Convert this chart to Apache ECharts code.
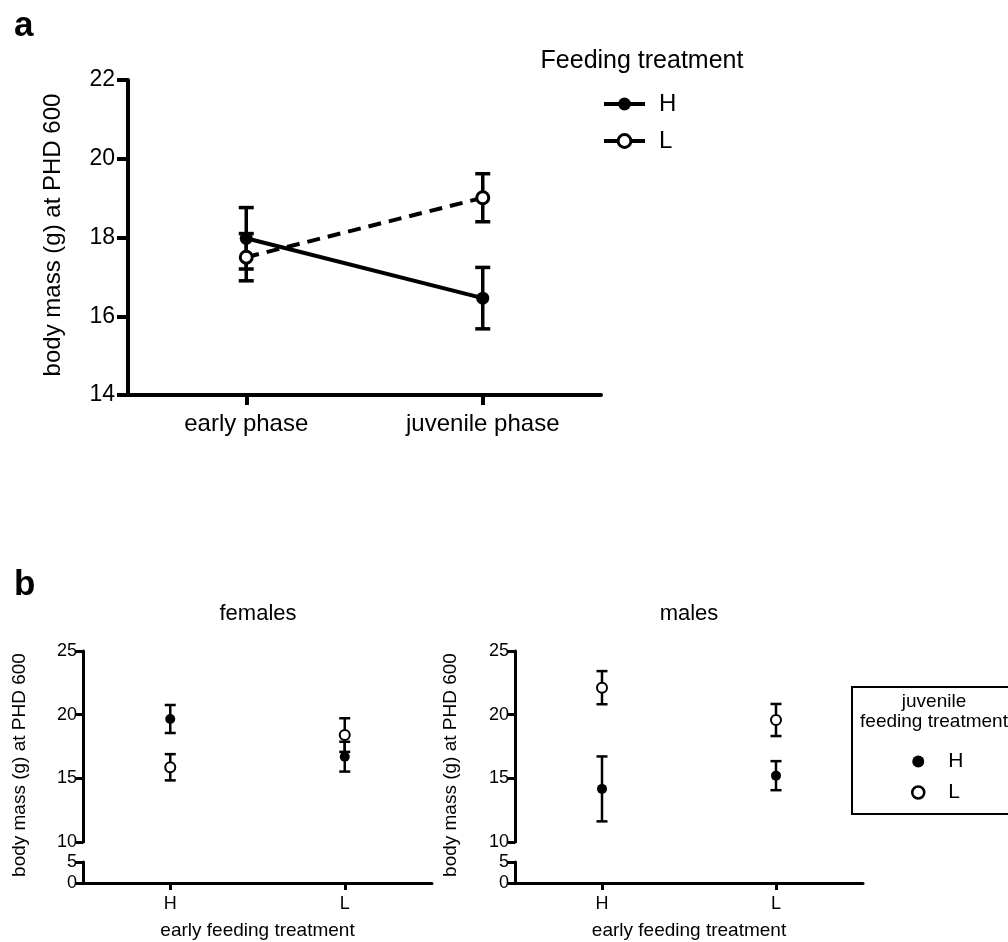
<!DOCTYPE html>
<html>
<head>
<meta charset="utf-8">
<script src="https://cdn.jsdelivr.net/npm/echarts@6/dist/echarts.min.js"></script>
<style>html,body{margin:0;padding:0;background:#fff;}#c{width:1008px;height:942px;}</style>
</head>
<body>
<div id="c"></div>
<script>
// ---- data ----
const phases = ['early phase', 'juvenile phase'];
const aH = [17.98, 16.46];
const aHerr = [0.78, 0.78];
const aL = [17.50, 19.01];
const aLerr = [0.60, 0.61];

const earlyTrt = ['H', 'L'];
const femH = [19.66, 16.70];
const femHerr = [1.10, 1.17];
const femL = [15.87, 18.40];
const femLerr = [1.03, 1.32];
const malH = [14.17, 15.21];
const malHerr = [2.55, 1.14];
const malL = [22.12, 19.58];
const malLerr = [1.30, 1.26];

const FONT = 'Liberation Sans';

function errData(means, errs) {
  return means.map((m, i) => [i, m - errs[i], m + errs[i]]);
}
function errRender(half, lw) {
  return function (params, api) {
    const lo = api.coord([api.value(0), api.value(1)]);
    const hi = api.coord([api.value(0), api.value(2)]);
    const st = { stroke: '#000', lineWidth: lw };
    return {
      type: 'group',
      children: [
        { type: 'line', shape: { x1: lo[0], y1: lo[1], x2: hi[0], y2: hi[1] }, style: st },
        { type: 'line', shape: { x1: lo[0] - half, y1: lo[1], x2: lo[0] + half, y2: lo[1] }, style: st },
        { type: 'line', shape: { x1: hi[0] - half, y1: hi[1], x2: hi[0] + half, y2: hi[1] }, style: st }
      ]
    };
  };
}

const chart = echarts.init(document.getElementById('c'), null, { renderer: 'canvas' });

const axLineA = { show: true, lineStyle: { color: '#000', width: 4 } };
const axLineB = { show: true, lineStyle: { color: '#000', width: 3 } };

function upperY(idx) {
  return {
    type: 'value', gridIndex: idx, min: 10, max: 25, interval: 5,
    axisLine: axLineB, splitLine: { show: false },
    axisTick: { show: true, length: 7, lineStyle: { color: '#000', width: 3 } },
    axisLabel: { color: '#000', fontFamily: FONT, fontSize: 18, margin: 6 }
  };
}
function lowerY(idx) {
  return {
    type: 'value', gridIndex: idx, min: 0, max: 5, interval: 5,
    axisLine: axLineB, splitLine: { show: false },
    axisTick: { show: true, length: 7, lineStyle: { color: '#000', width: 3 } },
    axisLabel: { color: '#000', fontFamily: FONT, fontSize: 18, margin: 6 }
  };
}
function upperX(idx) {
  return {
    type: 'category', gridIndex: idx, data: earlyTrt, boundaryGap: true,
    axisLine: { show: false }, axisTick: { show: false }, axisLabel: { show: false }, splitLine: { show: false }
  };
}
function lowerX(idx) {
  return {
    type: 'category', gridIndex: idx, data: earlyTrt, boundaryGap: true,
    axisLine: axLineB,
    axisTick: { show: true, alignWithLabel: true, length: 7, lineStyle: { color: '#000', width: 3 } },
    axisLabel: { color: '#000', fontFamily: FONT, fontSize: 18, margin: 12, interval: 0 },
    name: 'early feeding treatment', nameLocation: 'middle', nameGap: 38,
    nameTextStyle: { color: '#000', fontFamily: FONT, fontSize: 19 }
  };
}

const filledB = { color: '#000', opacity: 1 };
const openB = { color: '#fff', borderColor: '#000', borderWidth: 2, opacity: 1 };

const option = {
  animation: false,
  backgroundColor: '#fff',
  grid: [
    { left: 128, top: 80, width: 473, height: 315 },
    { left: 83, top: 651, width: 349, height: 191 },
    { left: 83, top: 862, width: 349, height: 21 },
    { left: 515, top: 651, width: 348, height: 191 },
    { left: 515, top: 862, width: 348, height: 21 }
  ],
  xAxis: [
    {
      type: 'category', gridIndex: 0, data: phases, boundaryGap: true,
      axisLine: axLineA,
      axisTick: { show: true, alignWithLabel: true, length: 10, lineStyle: { color: '#000', width: 4 } },
      axisLabel: { color: '#000', fontFamily: FONT, fontSize: 24, margin: 17, interval: 0 },
      splitLine: { show: false }
    },
    upperX(1), lowerX(2), upperX(3), lowerX(4)
  ],
  yAxis: [
    {
      type: 'value', gridIndex: 0, min: 14, max: 22, interval: 2,
      axisLine: axLineA, splitLine: { show: false },
      axisTick: { show: true, length: 11, lineStyle: { color: '#000', width: 4 } },
      axisLabel: { color: '#000', fontFamily: FONT, fontSize: 23, margin: 13 }
    },
    upperY(1), lowerY(2), upperY(3), lowerY(4)
  ],
  legend: [
    {
      orient: 'vertical', left: 602, top: 92, padding: 0,
      itemWidth: 41, itemHeight: 16, itemGap: 13,
      textStyle: { color: '#000', fontFamily: FONT, fontSize: 24, lineHeight: 24, padding: [0, 0, 0, 9] },
      data: [
        { name: 'H', lineStyle: { width: 4, type: 'solid', color: '#000' }, itemStyle: { color: '#000' } },
        { name: 'L', lineStyle: { width: 4, type: 'solid', color: '#000' }, itemStyle: { color: '#fff', borderColor: '#000', borderWidth: 3 } }
      ],
      selectedMode: false
    },
    {
      orient: 'vertical', left: 911, top: 751, padding: 0,
      itemWidth: 50, itemHeight: 12, itemGap: 10, icon: 'circle',
      textStyle: { color: '#000', fontFamily: FONT, fontSize: 21, lineHeight: 21 },
      formatter: function (name) { return name === 'jH' ? 'H' : 'L'; },
      data: [
        { name: 'jH', itemStyle: { color: '#000', borderWidth: 0, opacity: 1 } },
        { name: 'jL', itemStyle: { color: '#fff', borderColor: '#000', borderWidth: 2.5, opacity: 1 } }
      ],
      selectedMode: false
    }
  ],
  graphic: [
    { type: 'text', left: 14, top: 9, style: { text: 'a', font: 'bold 35px "Liberation Sans"', fill: '#000' } },
    { type: 'text', left: 14, top: 568, style: { text: 'b', font: 'bold 35px "Liberation Sans"', fill: '#000' } },
    { type: 'text', x: 53, y: 235, rotation: Math.PI / 2,
      style: { text: 'body mass (g) at PHD 600', font: '24px "Liberation Sans"', fill: '#000', align: 'center', verticalAlign: 'middle' } },
    { type: 'text', x: 642, y: 61,
      style: { text: 'Feeding treatment', font: '25px "Liberation Sans"', fill: '#000', align: 'center', verticalAlign: 'middle' } },
    { type: 'text', x: 258, y: 614,
      style: { text: 'females', font: '22px "Liberation Sans"', fill: '#000', align: 'center', verticalAlign: 'middle' } },
    { type: 'text', x: 689, y: 614,
      style: { text: 'males', font: '22px "Liberation Sans"', fill: '#000', align: 'center', verticalAlign: 'middle' } },
    { type: 'text', x: 20, y: 765, rotation: Math.PI / 2,
      style: { text: 'body mass (g) at PHD 600', font: '19px "Liberation Sans"', fill: '#000', align: 'center', verticalAlign: 'middle' } },
    { type: 'text', x: 451, y: 765, rotation: Math.PI / 2,
      style: { text: 'body mass (g) at PHD 600', font: '19px "Liberation Sans"', fill: '#000', align: 'center', verticalAlign: 'middle' } },
    { type: 'rect', shape: { x: 852, y: 687, width: 170, height: 127 },
      style: { fill: 'none', stroke: '#000', lineWidth: 2 } },
    { type: 'text', x: 934, y: 702,
      style: { text: 'juvenile', font: '19px "Liberation Sans"', fill: '#000', align: 'center', verticalAlign: 'middle' } },
    { type: 'text', x: 934, y: 722,
      style: { text: 'feeding treatment', font: '19px "Liberation Sans"', fill: '#000', align: 'center', verticalAlign: 'middle' } }
  ],
  series: [
    // panel a error bars
    { type: 'custom', name: 'aHerr', xAxisIndex: 0, yAxisIndex: 0, renderItem: errRender(7.5, 3.5), data: errData(aH, aHerr), z: 1 },
    { type: 'custom', name: 'aLerr', xAxisIndex: 0, yAxisIndex: 0, renderItem: errRender(7.5, 3.5), data: errData(aL, aLerr), z: 1 },
    // panel a lines
    {
      type: 'line', name: 'H', xAxisIndex: 0, yAxisIndex: 0, data: aH,
      symbol: 'circle', symbolSize: 13, showAllSymbol: true,
      lineStyle: { color: '#000', width: 4, type: 'solid' },
      itemStyle: { color: '#000' }, z: 3
    },
    {
      type: 'line', name: 'L', xAxisIndex: 0, yAxisIndex: 0, data: aL,
      symbol: 'circle', symbolSize: 12, showAllSymbol: true,
      lineStyle: { color: '#000', width: 4, type: [13, 8] },
      itemStyle: { color: '#fff', borderColor: '#000', borderWidth: 3 }, z: 4
    },
    // panel b females
    { type: 'custom', xAxisIndex: 1, yAxisIndex: 1, renderItem: errRender(5.5, 2.5), data: errData(femH, femHerr), z: 1 },
    { type: 'custom', xAxisIndex: 1, yAxisIndex: 1, renderItem: errRender(5.5, 2.5), data: errData(femL, femLerr), z: 1 },
    { type: 'scatter', name: 'jH', xAxisIndex: 1, yAxisIndex: 1, data: femH, symbol: 'circle', symbolSize: 10, itemStyle: filledB, z: 3 },
    { type: 'scatter', name: 'jL', xAxisIndex: 1, yAxisIndex: 1, data: femL, symbol: 'circle', symbolSize: 10, itemStyle: openB, z: 3 },
    // panel b males
    { type: 'custom', xAxisIndex: 3, yAxisIndex: 3, renderItem: errRender(5.5, 2.5), data: errData(malH, malHerr), z: 1 },
    { type: 'custom', xAxisIndex: 3, yAxisIndex: 3, renderItem: errRender(5.5, 2.5), data: errData(malL, malLerr), z: 1 },
    { type: 'scatter', name: 'jH', xAxisIndex: 3, yAxisIndex: 3, data: malH, symbol: 'circle', symbolSize: 10, itemStyle: filledB, z: 3 },
    { type: 'scatter', name: 'jL', xAxisIndex: 3, yAxisIndex: 3, data: malL, symbol: 'circle', symbolSize: 10, itemStyle: openB, z: 3 }
  ]
};
chart.setOption(option);
</script>
</body>
</html>
